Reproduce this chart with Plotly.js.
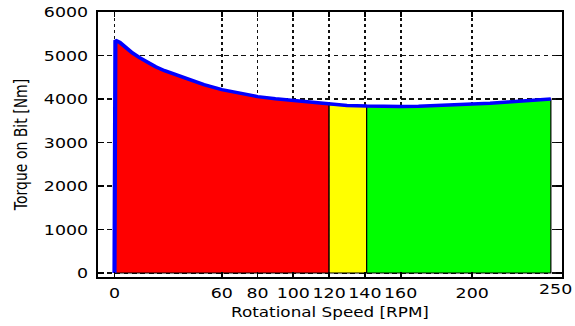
<!DOCTYPE html>
<html>
<head>
<meta charset="utf-8">
<script src="https://cdn.plot.ly/plotly-3.0.1.min.js"></script>
<style>
html, body { margin: 0; padding: 0; background: #fff; overflow: hidden; }
#wrap { width: 575px; height: 326px; overflow: hidden; }
#plot { width: 479.2px; height: 326px; transform: scaleX(1.2); transform-origin: 0 0; }
</style>
</head>
<body>
<div id="wrap"><div id="plot"></div></div>
<script>
// Rotational speed [RPM] and torque on bit [Nm]
var speed  = [0, 0.5, 3, 6, 10, 14, 18, 23, 28, 34, 40, 50, 60, 70, 80, 90, 100, 110, 120, 130, 141, 150, 160, 170, 180, 190, 200, 210, 220, 230, 240, 244];
var torque = [0, 5350, 5300, 5190, 5060, 4950, 4850, 4740, 4650, 4560, 4460, 4330, 4215, 4125, 4055, 4005, 3965, 3925, 3875, 3852, 3838, 3830, 3830, 3835, 3848, 3860, 3880, 3900, 3930, 3960, 3985, 4000];
// zone boundaries (RPM) and colours
var zoneEdges  = [0, 120, 141, 244];
var zoneColors = ['#FF0000', '#FFFF00', '#00FF00'];
var xTicks = [0, 60, 80, 100, 120, 140, 160, 200, 250];
var xTickText = ['0', '60', '80', '100', '120', '140', '160', '200', ''];
var xEndTick = [250];
var xEndTickText = ['250'];
var yTicks = [0, 1000, 2000, 3000, 4000, 5000, 6000];

function interp(x) {
  for (var i = 1; i < speed.length; i++) {
    if (x <= speed[i]) {
      var t = (x - speed[i-1]) / (speed[i] - speed[i-1]);
      return torque[i-1] + t * (torque[i] - torque[i-1]);
    }
  }
  return torque[torque.length - 1];
}

var traces = [];
for (var z = 0; z < zoneColors.length; z++) {
  var a = zoneEdges[z], b = zoneEdges[z+1];
  var xs = [a], ys = [0];
  if (z === 0) { xs.push(speed[1]); ys.push(torque[1]); }
  else { xs.push(a); ys.push(interp(a)); }
  for (var i = 0; i < speed.length; i++) {
    if (speed[i] > a && speed[i] < b && !(z === 0 && i <= 1)) { xs.push(speed[i]); ys.push(torque[i]); }
  }
  xs.push(b); ys.push(interp(b));
  xs.push(b); ys.push(0);
  xs.push(a); ys.push(0);
  traces.push({
    x: xs, y: ys, type: 'scatter', mode: 'lines', fill: 'toself',
    fillcolor: zoneColors[z], line: {color: '#000000', width: 1},
    hoverinfo: 'skip', showlegend: false
  });
}
traces.push({
  x: speed, y: torque, type: 'scatter', mode: 'lines',
  line: {color: '#0000FF', width: 3.5}, showlegend: false
});
// invisible helper trace so the secondary x axis (end label) is drawn
traces.push({
  x: [], y: [], xaxis: 'x2', yaxis: 'y', type: 'scatter', mode: 'lines',
  hoverinfo: 'skip', showlegend: false
});

var tickFont = {family: 'DejaVu Sans, Verdana, sans-serif', size: 14.5, color: '#000'};
var titleFont = {family: 'DejaVu Sans, Verdana, sans-serif', size: 14, color: '#000'};
var layout = {
  width: 479.2, height: 326,
  margin: {l: 81.7, r: 10.8, t: 12, b: 49, pad: 0},
  paper_bgcolor: '#ffffff', plot_bgcolor: '#ffffff',
  showlegend: false,
  xaxis: {
    range: [-9, 250], tickmode: 'array', tickvals: xTicks, ticktext: xTickText, tickangle: 0,
    ticks: 'inside', ticklen: 5, tickwidth: 1.5, tickcolor: '#000',
    showline: true, linecolor: '#000', linewidth: 2, mirror: 'ticks',
    showgrid: true, gridcolor: '#111', gridwidth: 1.5, griddash: '3px,3px',
    zeroline: false, tickfont: tickFont, ticklabelstandoff: 2, ticklabelshift: -1.5,
    title: {text: 'Rotational Speed [RPM]', font: titleFont, standoff: 7}
  },
  xaxis2: {
    overlaying: 'x', side: 'bottom', anchor: 'y',
    range: [-9, 250], tickmode: 'array', tickvals: xEndTick, ticktext: xEndTickText, tickangle: 0,
    ticks: '', showline: false, showgrid: false, zeroline: false,
    tickfont: tickFont, ticklabelstandoff: 2, ticklabelshift: -5
  },
  yaxis: {
    range: [-92, 6000], tickmode: 'array', tickvals: yTicks, ticktext: yTicks.map(String),
    ticks: 'inside', ticklen: 5, tickwidth: 1.5, tickcolor: '#000',
    showline: true, linecolor: '#000', linewidth: 1.7, mirror: 'ticks',
    showgrid: true, gridcolor: '#111', gridwidth: 1.5, griddash: '4px,3px',
    zeroline: false, tickfont: tickFont, ticklabelstandoff: 4,
    title: {text: 'Torque on Bit [Nm]', font: titleFont, standoff: 10}
  }
};
Plotly.newPlot('plot', traces, layout, {staticPlot: true, displayModeBar: false});
</script>
</body>
</html>
